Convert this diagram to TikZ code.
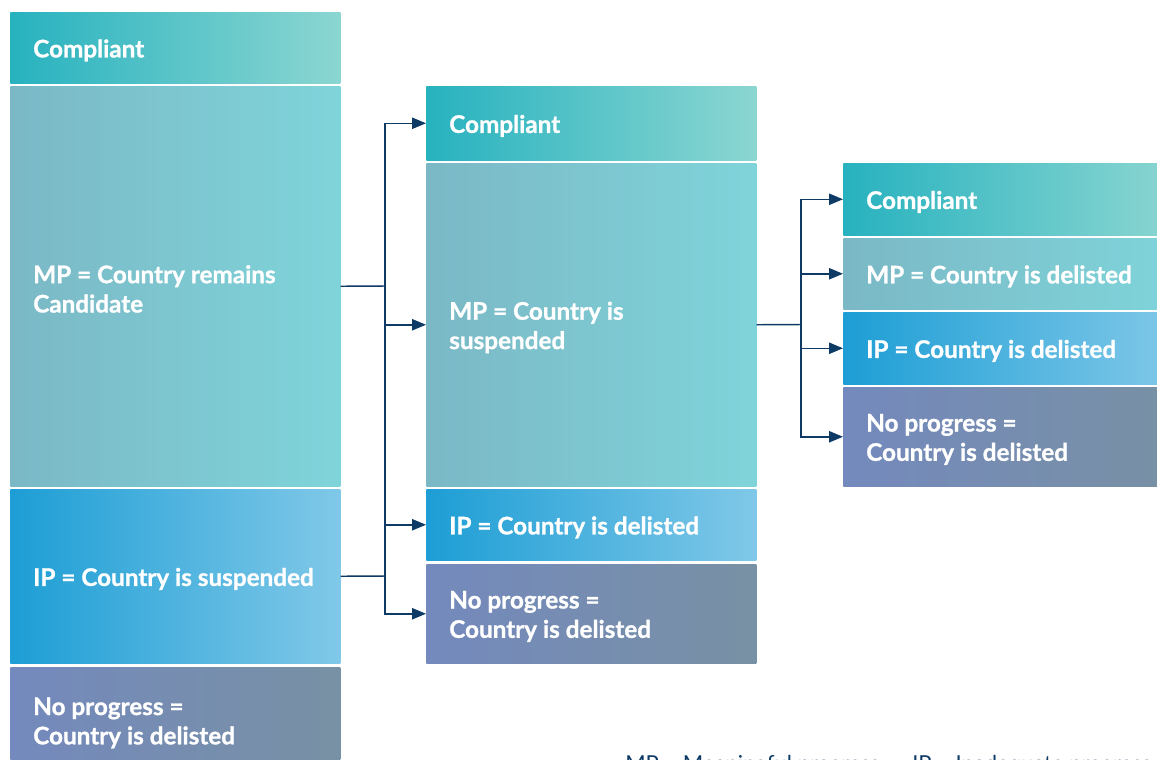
\documentclass[tikz,border=0pt]{standalone}
\usepackage{fontspec}
\setmainfont{Lato}[BoldFeatures={FakeBold=1}]
\usetikzlibrary{arrows.meta}
\definecolor{navy}{HTML}{0D3B66}
\definecolor{cL}{HTML}{27B2BF}\definecolor{cR}{HTML}{8BD6D1}
\definecolor{mL}{HTML}{7BB8C6}\definecolor{mR}{HTML}{7FD4DA}
\definecolor{iL}{HTML}{1D9ED5}\definecolor{iR}{HTML}{80C8E8}
\definecolor{nL}{HTML}{7489BD}\definecolor{nR}{HTML}{7891A4}
\tikzset{
  box/.style={anchor=north west, rectangle, inner sep=0pt, minimum width=247.5pt},
  txt/.style={anchor=west, text=white, font=\fontsize{18.2}{22}\selectfont\bfseries,
    align=left, inner sep=0pt},
  bh/.style={minimum height=#1*0.75pt},
  compl/.style={left color=cL, right color=cR},
  mpbox/.style={left color=mL, right color=mR},
  ipbox/.style={left color=iL, right color=iR},
  npbox/.style={left color=nL, right color=nR},
  conn/.style={draw=navy, line width=1.1pt},
  arr/.style={conn, -{Triangle[length=10.5pt,width=8.5pt]}},
  foot/.style={anchor=base west, inner sep=0pt, text=navy, font=\fontsize{16.5}{18}\selectfont}
}
% name, x, y, height(px), style, text
\newcommand\mybx[6]{%
  \node[box,#5,bh=#4] (#1) at (#2,#3) {};
  \node[txt] (#1t) at ([xshift=17.25pt,yshift=-2pt]#1.west) {#6};}
\begin{document}
\begin{tikzpicture}[x=0.75pt,y=-0.75pt]
\useasboundingbox (0,0) rectangle (1157,760);
% column 1
\mybx{c1}{10}{12}{71}{compl}{Compliant}
\mybx{m1}{10}{86}{400}{mpbox}{MP = Country remains\\Candidate}
\mybx{i1}{10}{489}{174}{ipbox}{IP = Country is suspended}
\mybx{n1}{10}{667}{106}{npbox}{No progress =\\Country is delisted}
% column 2
\mybx{c2}{426}{86}{74}{compl}{Compliant}
\mybx{m2}{426}{163}{323}{mpbox}{MP = Country is\\suspended}
\mybx{i2}{426}{489}{71}{ipbox}{IP = Country is delisted}
\mybx{n2}{426}{564}{99}{npbox}{No progress =\\Country is delisted}
% column 3
\mybx{c3}{843}{163}{72}{compl}{Compliant}
\mybx{m3}{843}{238}{71}{mpbox}{MP = Country is delisted}
\mybx{i3}{843}{312}{72}{ipbox}{IP = Country is delisted}
\mybx{n3}{843}{387}{99}{npbox}{No progress =\\Country is delisted}
% connectors
\coordinate (j1) at (385,286);
\coordinate (j2) at (385,576);
\coordinate (j3) at (801,324.5);
\draw[conn] (m1.east) -- (j1);
\draw[conn] (i1.east) -- (j2);
\draw[conn] (j1) -- (j2);
\draw[arr] (j1) |- (c2.west);
\draw[arr] (j1) |- (m2.west);
\draw[arr] (j1) |- (i2.west);
\draw[arr] (j2) |- (n2.west);
\draw[conn] (m2.east) -- (j3);
\draw[arr] (j3) |- (c3.west);
\draw[arr] (j3) |- (m3.west);
\draw[arr] (j3) |- (i3.west);
\draw[arr] (j3) |- (n3.west);
% footnote (cut off at bottom, as in the reference)
\node[foot] (f1) at (625,771) {MP = Meaningful progress};
\node[foot] (f2) at (912,771) {IP = Inadequate progress};
\end{tikzpicture}
\end{document}
